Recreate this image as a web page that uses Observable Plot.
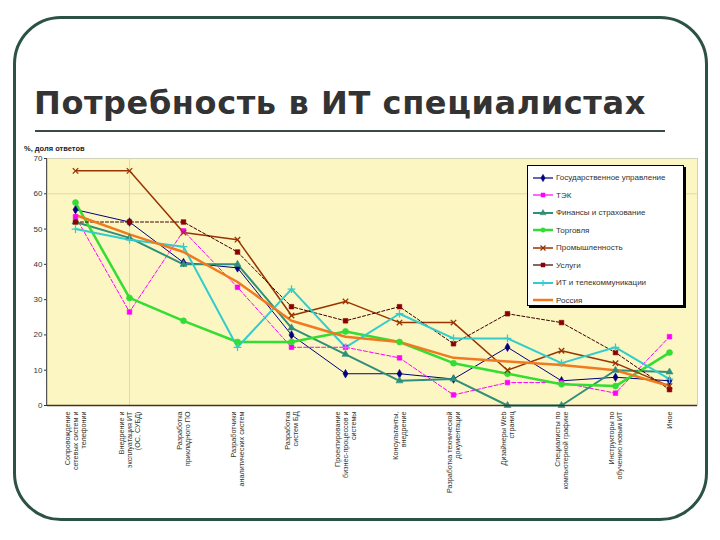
<!DOCTYPE html>
<html><head><meta charset="utf-8">
<script src="https://cdn.jsdelivr.net/npm/d3@7"></script>
<script src="https://cdn.jsdelivr.net/npm/@observablehq/plot@0.6"></script>
<style>
body{margin:0;background:#fff;}
#page{position:relative;width:720px;height:540px;overflow:hidden;font-family:"DejaVu Sans",sans-serif;background:#fff;}
#border{position:absolute;left:13px;top:16px;width:695px;height:505px;border:3px solid #2c5248;border-radius:48px;box-sizing:border-box;}
#title{position:absolute;left:34px;top:84px;font:bold 32px "DejaVu Sans";color:#333;white-space:nowrap;letter-spacing:0.6px;}
#rule{position:absolute;left:35px;top:130px;width:630px;height:2px;background:#3a4a45;}
#chart{position:absolute;left:0;top:140px;}
#ylab{position:absolute;left:24px;top:144px;font:bold 7.5px "Liberation Sans";color:#222;}
#yaxis{position:absolute;left:46px;top:158px;width:1px;height:247px;background:#555;}
#legend{position:absolute;left:527px;top:165px;width:157px;height:141px;background:#fff;border:1px solid #000;box-shadow:2px 2px 0 #000;box-sizing:border-box;padding-top:3px;}
.li{display:flex;align-items:center;height:17.5px;font:8px "Liberation Sans";color:#333;}
.li svg{margin-left:4px;margin-right:2px;}
</style></head>
<body><div id="page">
<div id="border"></div>
<div id="title">Потребность в ИТ специалистах</div>
<div id="rule"></div>
<div id="chart"></div>
<div id="yaxis"></div>
<div id="ylab">%, доля ответов</div>
<div id="legend"></div>
</div>
<script>
const categories = [
  "Сопровождение\nсетевых систем и\nтелефонии",
  "Внедрение и\nэксплуатация ИТ\n(ОС, СУБД)",
  "Разработка\nприкладного ПО",
  "Разработчики\nаналитических систем",
  "Разработка\nсистем БД",
  "Проектирование\nбизнес-процессов и\nсистемы",
  "Консультанты,\nвнедрение",
  "Разработка технической\nдокументации",
  "Дизайнеры Web\nстраниц",
  "Специалисты по\nкомпьютерной графике",
  "Инструкторы по\nобучению новым ИТ",
  "Иное"
];
const seriesNames = ["Государственное управление","ТЭК","Финансы и страхование","Торговля","Промышленность","Услуги","ИТ и телекоммуникации","Россия"];
const gosupr   = [55.5, 52, 40.5, 39, 20, 9, 9, 7.5, 16.5, 7, 8, 7];
const tek      = [53.5, 26.5, 49.5, 33.5, 16.5, 16.5, 13.5, 3, 6.5, 6.5, 3.5, 19.5];
const finance  = [52, 47.5, 40, 40, 22, 14.5, 7, 7.5, 0, 0, 10, 9.5];
const trade    = [57.5, 30.5, 24, 18, 18, 21, 18, 12, 9, 6, 5.5, 15];
const industry = [66.5, 66.5, 49, 47, 25.5, 29.5, 23.5, 23.5, 10, 15.5, 12, 5.5];
const services = [52, 52, 52, 43.5, 28, 24, 28, 17.5, 26, 23.5, 15, 4.5];
const ittel    = [50, 47, 45, 16.5, 33, 16.5, 26, 19, 19, 12, 16.5, 7.5];
const russia   = [54, 48.5, 43.5, 35, 24, 19.5, 18, 13.5, 12.5, 11.5, 10, 5.5];
const yTicks = [0,10,20,30,40,50,60,70];

const seriesValues = [gosupr, tek, finance, trade, industry, services, ittel, russia];
const colors  = ["#000080","#ff00ff","#2f8f78","#33dd33","#993300","#3a0000","#33cccc","#f07a20"];
const markerC = ["#000080","#ff00ff","#2f8f78","#33dd33","#993300","#8b0000","#33cccc",null];
const symbols = ["diamond","square","triangle","circle","times","square","plus",null];
const widths  = [1,1,2,2.5,1.5,1,2,2.5];
const dashes  = [null,"4,2",null,null,null,"3,2",null,null];

const rows = [];
seriesValues.forEach((vals, si) => vals.forEach((v, ci) => rows.push({s: si, cat: categories[ci], v})));

const lineMarks = seriesValues.map((vals, si) => Plot.line(rows.filter(r => r.s === si), {
  x: "cat", y: "v", stroke: colors[si], strokeWidth: widths[si], strokeDasharray: dashes[si]
}));
const dotMarks = seriesValues.map((vals, si) => symbols[si] ? Plot.dot(rows.filter(r => r.s === si), {
  x: "cat", y: "v", symbol: () => symbols[si], r: si === 3 ? 3 : 2.6,
  fill: (symbols[si] === "times" || symbols[si] === "plus") ? "none" : markerC[si],
  stroke: markerC[si], strokeWidth: (symbols[si] === "times" || symbols[si] === "plus") ? 1.3 : 0.6
}) : null).filter(Boolean);

const chart = Plot.plot({
  width: 720, height: 370,
  marginLeft: 47, marginRight: 23, marginTop: 18, marginBottom: 105,
  style: {background: "transparent", fontFamily: "Liberation Sans", fontSize: "8px", color: "#333"},
  x: {type: "point", domain: categories, padding: 0.5, axis: null},
  y: {domain: [0, 70], ticks: yTicks, tickSize: 3, tickPadding: 2, label: null, tickFormat: d => d},
  symbol: {type: "identity"},
  marks: [
    Plot.frame({fill: "#fcf7c2", stroke: "#c8c8b0", strokeWidth: 0.8}),
    Plot.ruleY([60], {stroke: "#e2d8a0", strokeWidth: 1}),
    Plot.ruleX([categories[1]], {stroke: "#e8d8a8", strokeWidth: 1}),
    ...lineMarks,
    ...dotMarks,
    Plot.ruleY([0], {stroke: "#4a3020", strokeWidth: 1.5}),
    Plot.text(categories, {x: d => d, frameAnchor: "bottom", dy: 6, rotate: -90, textAnchor: "end", lineAnchor: "middle", fontSize: 7.2, fill: "#333", lineHeight: 1.15})
  ]
});
document.getElementById("chart").appendChild(chart);

// legend
const leg = document.getElementById("legend");
seriesNames.forEach((name, si) => {
  const div = document.createElement("div");
  div.className = "li";
  const ns = "http://www.w3.org/2000/svg";
  const svg = document.createElementNS(ns, "svg");
  svg.setAttribute("width", 22); svg.setAttribute("height", 10);
  const ln = document.createElementNS(ns, "line");
  ln.setAttribute("x1", 1); ln.setAttribute("x2", 21); ln.setAttribute("y1", 5); ln.setAttribute("y2", 5);
  ln.setAttribute("stroke", colors[si]); ln.setAttribute("stroke-width", Math.max(1.2, widths[si]));
  svg.appendChild(ln);
  if (symbols[si]) {
    const p = document.createElementNS(ns, "path");
    const sym = {diamond: d3.symbolDiamond, square: d3.symbolSquare, triangle: d3.symbolTriangle, circle: d3.symbolCircle}[symbols[si]];
    let path;
    if (symbols[si] === "plus") path = "M-3,0H3M0,-3V3";
    else if (symbols[si] === "times") path = "M-2.5,-2.5L2.5,2.5M-2.5,2.5L2.5,-2.5";
    else path = d3.symbol(sym, 16)();
    p.setAttribute("d", path);
    p.setAttribute("transform", "translate(11,5)");
    const open = symbols[si] === "plus" || symbols[si] === "times";
    p.setAttribute("fill", open ? "none" : markerC[si]);
    p.setAttribute("stroke", markerC[si]);
    p.setAttribute("stroke-width", open ? 1.2 : 0.5);
    svg.appendChild(p);
  }
  div.appendChild(svg);
  const span = document.createElement("span");
  span.textContent = name;
  div.appendChild(span);
  leg.appendChild(div);
});
</script>
</body></html>
